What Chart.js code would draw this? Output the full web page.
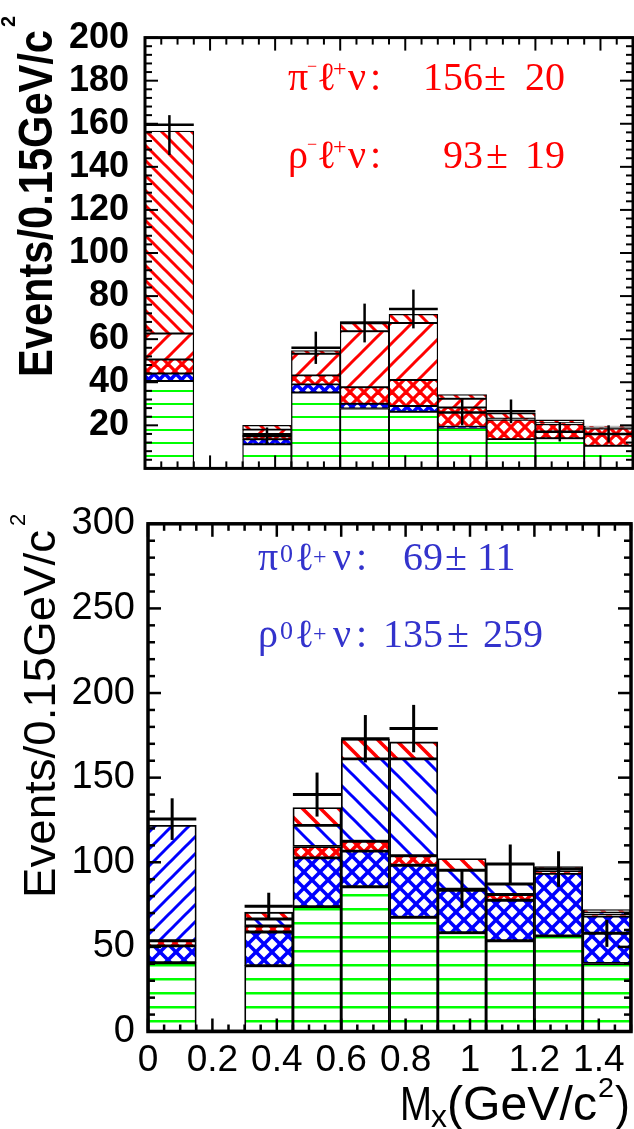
<!DOCTYPE html>
<html>
<head>
<meta charset="utf-8">
<title>Mx distributions</title>
<script src="https://cdn.jsdelivr.net/npm/chart.js@4.4.1/dist/chart.umd.min.js"></script>
<style>
html,body{margin:0;padding:0;background:#fff;width:634px;height:1129px;overflow:hidden}
#c1{position:absolute;left:0;top:0}
#c2{position:absolute;left:0;top:488px;background:#fff}
</style>
</head>
<body>
<canvas id="c1" width="634" height="506"></canvas>
<canvas id="c2" width="634" height="641"></canvas>
<script>
// ---------------- data ----------------
const BIN_W = 0.15;
const binCenters = [0.075, 0.225, 0.375, 0.525, 0.675, 0.825, 0.975, 1.125, 1.275, 1.425];

// top panel (charged): stacked components, bottom -> top
const topBkg      = [40.6, 0, 11.2, 35.2, 27.8, 26.3, 18.8, 13.6, 14.0, 10.5];
const topNeutral  = [3.5, 0, 2.3, 3.8, 2.2, 2.7, 0.5, 0, 0, 0];
const topOther    = [6.5, 0, 2.5, 4.2, 7.7, 12.0, 9.0, 9.0, 6.5, 8.0];
const topRho      = [12.0, 0, 2.0, 10.0, 26.0, 26.5, 4.0, 0.5, 0.5, 0.5];
const topPi       = [94.0, 0, 2.0, 1.5, 4.5, 4.0, 2.0, 2.5, 1.5, 0.6];
const topData     = [159.5, null, 15, 56, 67.5, 74, 26, 26.5, 17, 16];
const topErrLo    = [14, null, 4, 7.5, 9, 9, 6, 5.5, 4.5, 4];
const topErrHi    = [4.5, null, 4, 7.5, 9, 9, 6, 5.5, 4.5, 4];

// bottom panel (neutral): stacked components, bottom -> top
const botBkg      = [40.6, 1, 38.9, 73.8, 85.5, 67.5, 58.4, 53.6, 56.5, 40.2];
const botOtherXu  = [10, 0, 19.9, 28.8, 21.1, 30.7, 25, 24, 37, 28];
const botCharged  = [3, 0, 3.5, 6.7, 5.8, 5.7, 0, 3.4, 1, 1];
const botPi0      = [68.2, 0, 0, 0, 0, 0, 0, 0, 0, 0];
const botRho0     = [0, 0, 4.2, 12.5, 48.7, 57.2, 11.9, 6.2, 1, 1];
const botEmpty    = [0, 0, 0, 0, 0, 0, 0, 12, 0, 0];
const botChargedS = [0, 0, 4, 10.5, 11.7, 10, 6.9, 0, 2, 1.8];
const botData     = [125.5, null, 74, 140, 173, 179, 84, 99, 96, 58];
const botErr      = [12.3, null, 8, 13, 14, 14, 11, 11.5, 10.5, 8];

// ticks
const topYTicks   = [20, 40, 60, 80, 100, 120, 140, 160, 180, 200];
const botYTicks   = [0, 50, 100, 150, 200, 250, 300];
const botXTicks   = [0, 0.2, 0.4, 0.6, 0.8, 1.0, 1.2, 1.4];
const botXLabels  = ['0', '0.2', '0.4', '0.6', '0.8', '1', '1.2', '1.4'];

// ---------------- patterns ----------------
function tileCanvas(w, h, fn) {
  const c = document.createElement('canvas'); c.width = w; c.height = h;
  const g = c.getContext('2d'); g.fillStyle = '#fff'; g.fillRect(0, 0, w, h); fn(g, w, h); return c;
}
function patHLines(ctx, color, p, lw) {
  return ctx.createPattern(tileCanvas(8, p, (g, w) => { g.fillStyle = color; g.fillRect(0, 0, w, lw); }), 'repeat');
}
function patDiag(ctx, color, p, lw, dirs) {
  return ctx.createPattern(tileCanvas(p, p, g => {
    g.strokeStyle = color; g.lineWidth = lw;
    dirs.forEach(d => {
      for (let k = -1; k <= 1; k++) {
        g.beginPath();
        if (d === '\\') { g.moveTo(-2, k * p - 2); g.lineTo(p + 2, k * p + p + 2); }
        else { g.moveTo(-2, k * p + p + 2); g.lineTo(p + 2, k * p - 2); }
        g.stroke();
      }
    });
  }), 'repeat');
}

// ---------------- helpers ----------------
function seg(ctx, x0, y0, x1, y1) { ctx.beginPath(); ctx.moveTo(x0, y0); ctx.lineTo(x1, y1); ctx.stroke(); }
function fitText(ctx, text, font, x, y, w, sy) {
  ctx.font = font;
  const m = ctx.measureText(text).width;
  ctx.save(); ctx.translate(x, y); ctx.scale(w / m, sy || 1); ctx.fillText(text, 0, 0); ctx.restore();
}

function axesPlugin(o) {
  return {
    id: 'axes_' + o.name,
    afterDatasetsDraw(chart) {
      const { ctx, chartArea: a, scales: { x, y } } = chart;
      ctx.save();
      ctx.strokeStyle = '#000'; ctx.lineCap = 'butt';
      // data points with error bars
      ctx.lineWidth = o.errLW;
      o.data.forEach((v, i) => {
        if (v === null) return;
        const c = binCenters[i];
        const x0 = x.getPixelForValue(c - BIN_W / 2), x1 = x.getPixelForValue(c + BIN_W / 2), xc = x.getPixelForValue(c);
        const yv = y.getPixelForValue(v);
        seg(ctx, x0, yv, x1, yv);
        seg(ctx, xc, y.getPixelForValue(v - o.errLo[i]), xc, y.getPixelForValue(v + o.errHi[i]));
      });
      // inward ticks
      ctx.lineWidth = o.tickLW;
      for (let k = 0; k * o.yMinor <= o.ymax + 1e-9; k++) {
        const v = k * o.yMinor;
        const major = Math.abs(v / o.yMajor - Math.round(v / o.yMajor)) < 1e-6;
        const len = major ? o.majLen : o.minLen, py = y.getPixelForValue(v);
        seg(ctx, a.left, py, a.left + len, py);
        seg(ctx, a.right, py, a.right - len, py);
      }
      for (let k = 0; k * 0.05 <= 1.5 + 1e-9; k++) {
        const v = k * 0.05;
        const major = Math.abs(v / 0.2 - Math.round(v / 0.2)) < 1e-6;
        const len = major ? o.majLen : o.minLen, px = x.getPixelForValue(v);
        seg(ctx, px, a.top, px, a.top + len);
        seg(ctx, px, a.bottom, px, a.bottom - len);
      }
      // frame
      ctx.lineWidth = o.frameLW;
      ctx.strokeRect(a.left, a.top, a.right - a.left, a.bottom - a.top);
      ctx.restore();
    },
    afterDraw(chart) { o.texts(chart.ctx); }
  };
}

function drawPieces(ctx, color, base, pieces) {
  ctx.save(); ctx.fillStyle = color; ctx.textBaseline = 'alphabetic';
  pieces.forEach(p => {
    ctx.font = p[3] + 'px "Liberation Serif", "DejaVu Serif", serif';
    ctx.textAlign = p[4] || 'left';
    ctx.fillText(p[0], p[1], base + p[2]);
  });
  ctx.restore();
}

function makeChart(canvas, cfg) {
  const ctx = canvas.getContext('2d');
  const datasets = cfg.stack.map(s => ({
    label: s.label, data: s.data, backgroundColor: s.fill(ctx),
    borderColor: '#000', borderWidth: cfg.bw, borderSkipped: false,
    barPercentage: 1, categoryPercentage: 1
  }));
  return new Chart(ctx, {
    type: 'bar',
    data: { labels: binCenters, datasets },
    options: {
      responsive: false, animation: false, events: [],
      layout: { padding: cfg.padding },
      plugins: { legend: { display: false }, tooltip: { enabled: false } },
      scales: {
        x: {
          type: 'linear', min: 0, max: 1.5, offset: false, stacked: true, display: cfg.showX,
          grid: { display: false, drawTicks: false }, border: { display: false },
          afterBuildTicks: s => { s.ticks = botXTicks.map(v => ({ value: v })); },
          afterFit: s => { if (cfg.xHeight) s.height = cfg.xHeight; },
          ticks: { autoSkip: false, maxRotation: 0, minRotation: 0, padding: 7, color: '#000',
            font: { family: '"Liberation Sans", Arial, sans-serif', size: 37 },
            callback: (v, i) => botXLabels[i] }
        },
        y: {
          min: 0, max: cfg.ymax, stacked: true,
          grid: { display: false, drawTicks: false }, border: { display: false },
          afterBuildTicks: s => { s.ticks = cfg.yTicks.map(v => ({ value: v })); },
          afterFit: s => { s.width = cfg.yWidth; },
          ticks: { padding: cfg.yPad, color: '#000', font: cfg.yFont, callback: v => String(v) }
        }
      }
    },
    plugins: [axesPlugin(cfg.axes)]
  });
}

// ---------------- top panel ----------------
makeChart(document.getElementById('c1'), {
  ymax: 200, yTicks: topYTicks, yWidth: 145, yPad: 16, showX: false, bw: 1.3,
  padding: { top: 20, right: 1, bottom: 0, left: 0 },
  yFont: { family: '"Liberation Sans", Arial, sans-serif', size: 36, weight: 'bold' },
  stack: [
    { label: 'Background', data: topBkg, fill: c => patHLines(c, '#00ff00', 13, 2) },
    { label: 'Neutral cross-feed', data: topNeutral, fill: c => patDiag(c, '#0000ff', 11, 3.5, ['\\', '/']) },
    { label: 'Other b→u', data: topOther, fill: c => patDiag(c, '#ff0000', 14, 3.2, ['\\', '/']) },
    { label: 'ρ⁻ℓ⁺ν', data: topRho, fill: c => patDiag(c, '#ff0000', 21, 3, ['/']) },
    { label: 'π⁻ℓ⁺ν', data: topPi, fill: c => patDiag(c, '#ff0000', 15, 3, ['\\']) }
  ],
  axes: {
    name: 'top', data: topData, errLo: topErrLo, errHi: topErrHi, errLW: 2.5, tickLW: 2,
    ymax: 200, yMinor: 4, yMajor: 20, majLen: 13, minLen: 7, frameLW: 3,
    texts: ctx => {
      ctx.save(); ctx.fillStyle = '#000'; ctx.textAlign = 'left'; ctx.textBaseline = 'alphabetic';
      ctx.translate(52, 377); ctx.rotate(-Math.PI / 2);
      fitText(ctx, 'Events/0.15GeV/c', 'bold 42px "Liberation Sans", Arial, sans-serif', 0, 0, 347, 1.16);
      ctx.font = 'bold 20px "Liberation Sans", Arial, sans-serif';
      ctx.fillText('2', 350, -37);
      ctx.restore();
      const lbl = (g) => [[g, 288, 0, 40], ['−', 307, -18, 18], ['ℓ', 317, 0, 40], ['+', 333, -14, 24], ['ν', 348, 0, 40], [':', 370, 0, 40]];
      drawPieces(ctx, '#ff0000', 90, lbl('π').concat([['156', 483, 0, 40, 'right'], ['±', 484, 0, 40], ['20', 525, 0, 40]]));
      drawPieces(ctx, '#ff0000', 168, lbl('ρ').concat([['93', 483, 0, 40, 'right'], ['±', 486, 0, 40], ['19', 525, 0, 40]]));
    }
  }
});

// ---------------- bottom panel ----------------
makeChart(document.getElementById('c2'), {
  ymax: 300, yTicks: botYTicks, yWidth: 148, yPad: 13, showX: true, xHeight: 97.5, bw: 1.8,
  padding: { top: 22, right: 3, bottom: 0, left: 0 },
  yFont: { family: '"Liberation Sans", Arial, sans-serif', size: 38 },
  stack: [
    { label: 'Background', data: botBkg, fill: c => patHLines(c, '#00ff00', 14, 2.5) },
    { label: 'Other b→u', data: botOtherXu, fill: c => patDiag(c, '#0000ff', 16, 3.5, ['\\', '/']) },
    { label: 'Charged cross-feed', data: botCharged, fill: c => patDiag(c, '#ff0000', 14, 3.5, ['\\', '/']) },
    { label: 'π⁰ℓ⁺ν', data: botPi0, fill: c => patDiag(c, '#0000ff', 17, 3, ['/']) },
    { label: 'ρ⁰ℓ⁺ν', data: botRho0, fill: c => patDiag(c, '#0000ff', 22, 3, ['\\']) },
    { label: 'Other', data: botEmpty, fill: c => '#ffffff' },
    { label: 'Charged signal feed', data: botChargedS, fill: c => patDiag(c, '#ff0000', 18, 3.5, ['\\']) }
  ],
  axes: {
    name: 'bot', data: botData, errLo: botErr, errHi: botErr, errLW: 3, tickLW: 2.5,
    ymax: 300, yMinor: 10, yMajor: 50, majLen: 13, minLen: 7, frameLW: 3.5,
    texts: ctx => {
      ctx.save(); ctx.fillStyle = '#000'; ctx.textAlign = 'left'; ctx.textBaseline = 'alphabetic';
      ctx.translate(55, 410); ctx.rotate(-Math.PI / 2);
      fitText(ctx, 'Events/0.15GeV/c', '42px "Liberation Sans", Arial, sans-serif', 0, 0, 368, 1.06);
      ctx.font = '22px "Liberation Sans", Arial, sans-serif';
      ctx.fillText('2', 372, -30);
      ctx.restore();
      ctx.save(); ctx.fillStyle = '#000'; ctx.textAlign = 'left'; ctx.textBaseline = 'alphabetic';
      const f = '"Liberation Sans", Arial, sans-serif';
      fitText(ctx, 'M', '49px ' + f, 400, 632, 32);
      fitText(ctx, 'x', '32px ' + f, 431, 639, 16);
      fitText(ctx, '(GeV/c', '49px ' + f, 447, 632, 150);
      fitText(ctx, '2', '28px ' + f, 598, 609, 16);
      fitText(ctx, ')', '49px ' + f, 615, 632, 15);
      ctx.restore();
      const lbl = (g) => [[g, 258, 0, 40], ['0', 280, -8, 26], ['ℓ', 295, 0, 40], ['+', 313, -6, 24], ['ν', 333, 0, 40], [':', 356, 0, 40]];
      drawPieces(ctx, '#3333cc', 82, lbl('π').concat([['69', 443, 0, 40, 'right'], ['±', 445, 0, 40], ['11', 477, 0, 40]]));
      drawPieces(ctx, '#3333cc', 159, lbl('ρ').concat([['135', 443, 0, 40, 'right'], ['±', 447, 0, 40], ['259', 483, 0, 40]]));
    }
  }
});
</script>
</body>
</html>
